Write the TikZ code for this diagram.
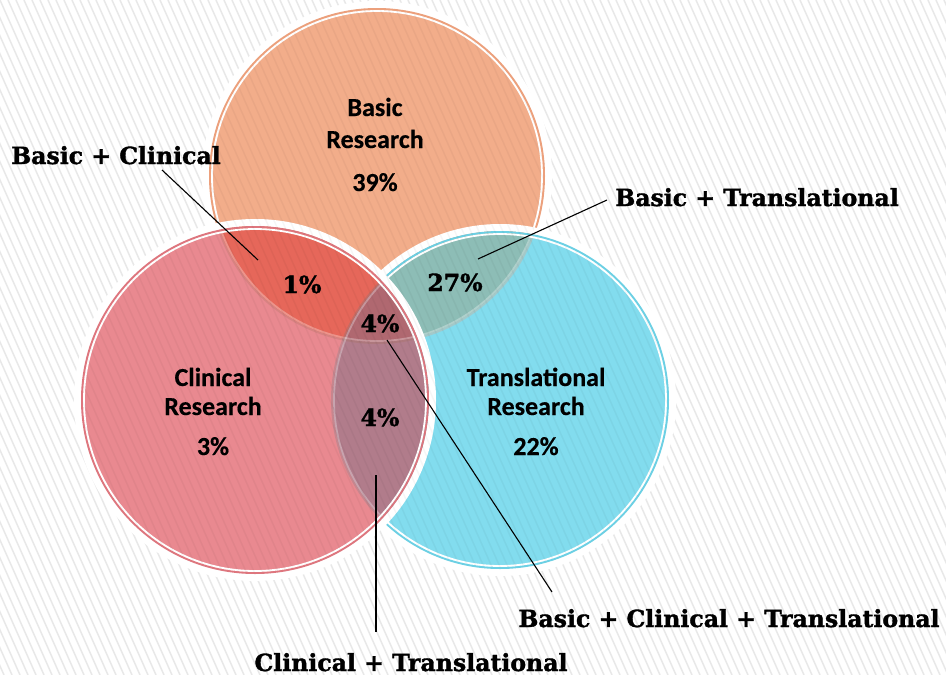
\documentclass[tikz,border=0pt]{standalone}
\usepackage{fontspec}
\newfontfamily\sansfnt{Carlito}[BoldFeatures={FakeBold=0.4}]
\newfontfamily\seriffnt{DejaVu Serif}[BoldFeatures={FakeBold=1.5}]
\definecolor{bfill}{RGB}{242,173,138}
\definecolor{bring}{RGB}{236,160,124}
\definecolor{tfill}{RGB}{130,220,238}
\definecolor{tring}{RGB}{108,208,228}
\definecolor{cfill}{RGB}{233,137,144}
\definecolor{cring}{RGB}{222,118,126}
\definecolor{btfill}{RGB}{141,189,182}
\definecolor{bcfill}{RGB}{230,103,90}
\definecolor{ctfill}{RGB}{177,124,139}
\definecolor{bctfill}{RGB}{176,104,112}
\definecolor{hatchcol}{RGB}{232,232,232}
\tikzset{
  band/.style={draw=white, line width=7},
  ringline/.style={line width=2},
  innerwhite/.style={draw=white, line width=1.8},
  sanslbl/.style={font=\sansfnt\bfseries\fontsize{26}{26}\selectfont, anchor=base, inner sep=0pt},
  seriflbl/.style={font=\seriffnt\bfseries\fontsize{23.6}{24}\selectfont, anchor=base, inner sep=0pt},
  connector/.style={draw=black, line width=1.1},
}
\begin{document}
\begin{tikzpicture}[x=1pt,y=-1pt]
\useasboundingbox (0,0) rectangle (946,675);
\fill[white] (0,0) rectangle (946,675);
% background hatching
\begin{scope}
\clip (0,0) rectangle (946,675);
\foreach \i in {-320,-312,...,946} \draw[hatchcol, line width=1.5] (\i,0) -- ++(300,675);
\end{scope}
\def\RB{167}\def\RT{168}\def\RC{173}
\coordinate (B) at (377,176);
\coordinate (T) at (500,400);
\coordinate (C) at (255,400);
% ---- Basic circle
\draw[band] (B) circle[radius=\RB+4.5];
\draw[bring, ringline] (B) circle[radius=\RB];
\fill[bfill] (B) circle[radius=\RB-1];
\draw[innerwhite] (B) circle[radius=\RB-2];
% ---- Translational circle
\draw[band] (T) circle[radius=\RT+4.5];
\draw[tring, ringline] (T) circle[radius=\RT];
\fill[tfill] (T) circle[radius=\RT-1];
\begin{scope}
  \clip (T) circle[radius=\RT-1];
  \fill[btfill] (B) circle[radius=\RB-1];
  \draw[bring, ringline, opacity=.3] (B) circle[radius=\RB];
  \draw[innerwhite, opacity=.3] (B) circle[radius=\RB-2];
\end{scope}
\draw[innerwhite] (T) circle[radius=\RT-2];
% ---- Clinical circle
\draw[band] (C) circle[radius=\RC+4.5];
\draw[cring, ringline] (C) circle[radius=\RC];
\fill[cfill] (C) circle[radius=\RC-1];
\begin{scope}
  \clip (C) circle[radius=\RC-1];
  \fill[bcfill] (B) circle[radius=\RB-1];
  \fill[ctfill] (T) circle[radius=\RT-1];
  \begin{scope}
    \clip (B) circle[radius=\RB-1];
    \fill[bctfill] (T) circle[radius=\RT-1];
  \end{scope}
  \draw[bring!70!black, ringline, opacity=.25] (B) circle[radius=\RB];
  \draw[innerwhite, opacity=.3] (B) circle[radius=\RB-2];
  \draw[tring!60!black, ringline, opacity=.2] (T) circle[radius=\RT];
  \draw[innerwhite, opacity=.3] (T) circle[radius=\RT-2];
\end{scope}
\draw[innerwhite] (C) circle[radius=\RC-2];
% faint hatching inside circles
\begin{scope}
\clip (B) circle[radius=\RB-1] (T) circle[radius=\RT-1] (C) circle[radius=\RC-1];
\foreach \i in {-320,-312,...,946} \draw[black, opacity=.035, line width=1.5] (\i,0) -- ++(300,675);
\end{scope}
% ---- circle labels
\node[sanslbl] (bl1) at (375,116) {Basic};
\node[sanslbl] (bl2) at (375,148) {Research};
\node[sanslbl] (bl3) at (375,191) {39\%};
\node[sanslbl] (cl1) at (213,386) {Clinical};
\node[sanslbl] (cl2) at (213,415) {Research};
\node[sanslbl] (cl3) at (213,455) {3\%};
\node[sanslbl] (tl1) at (536,386) {Translational};
\node[sanslbl] (tl2) at (536,415) {Research};
\node[sanslbl] (tl3) at (536,455) {22\%};
% ---- intersection values
\node[seriflbl] (pbc) at (302,293) {1\%};
\node[seriflbl] (pbt) at (455,291) {27\%};
\node[seriflbl] (pbct) at (380,332) {4\%};
\node[seriflbl] (pct) at (380,426) {4\%};
% ---- outside labels
\node[seriflbl] (lbc) at (116,164) {Basic + Clinical};
\node[seriflbl] (lbt) at (757,206) {Basic + Translational};
\node[seriflbl] (lbct) at (729,627) {Basic + Clinical + Translational};
\node[seriflbl] (lct) at (411,671) {Clinical + Translational};
% ---- connectors
\coordinate (a1) at (162,170); \coordinate (a2) at (258,260);
\coordinate (b1) at (607,200); \coordinate (b2) at (478,259);
\coordinate (c1) at (387,340); \coordinate (c2) at (552,592);
\coordinate (d1) at (376,475); \coordinate (d2) at (376,632);
\draw[connector] (a1) -- (a2);
\draw[connector] (b1) -- (b2);
\draw[connector] (c1) -- (c2);
\draw[connector] (d1) -- (d2);
\end{tikzpicture}
\end{document}
